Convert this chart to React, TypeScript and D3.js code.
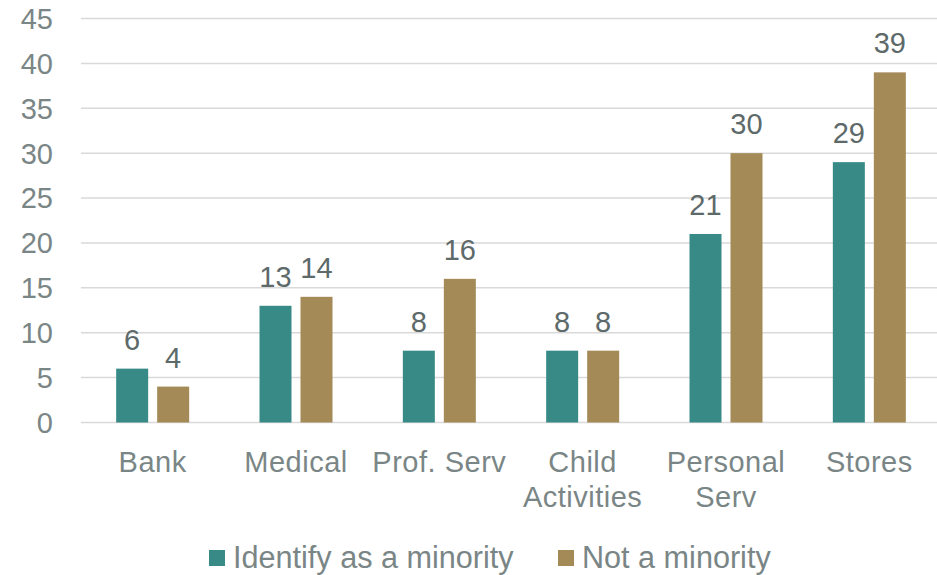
import React from "react";
import * as d3 from "d3";

const categories = ["Bank", "Medical", "Prof. Serv", "Child Activities", "Personal Serv", "Stores"];
const categoryLines = [["Bank"], ["Medical"], ["Prof. Serv"], ["Child", "Activities"], ["Personal", "Serv"], ["Stores"]];
const seriesNames = ["Identify as a minority", "Not a minority"];
const minorityValues = [6, 13, 8, 8, 21, 29];
const notMinorityValues = [4, 14, 16, 8, 30, 39];
const yTicks = [0, 5, 10, 15, 20, 25, 30, 35, 40, 45];
const colors = ["#388a87", "#a38a56"];

const W = 937;
const H = 575;
const FONT = "'Liberation Sans', Arial, sans-serif";

export default function App() {
  const x = d3.scaleBand<string>().domain(categories).range([81, 941]).paddingInner(0).paddingOuter(0);
  const y = d3.scaleLinear().domain([0, 45]).range([422.5, 18.5]);
  const series = [minorityValues, notMinorityValues];
  const barW = 32;
  const gap = 9;
  const offsets = [-(barW + gap / 2), gap / 2];

  return (
    <svg width={W} height={H} style={{ position: "absolute", left: 0, top: 0, background: "#fff" }}>
      {yTicks.map((t) => (
        <g key={t}>
          <line x1={81} x2={W} y1={y(t)} y2={y(t)} stroke="#d9d9d9" strokeWidth={1.5} />
          <text x={53} y={y(t)} dy="0.36em" textAnchor="end" fontFamily={FONT} fontSize={29} fill="#7a8686">
            {t}
          </text>
        </g>
      ))}
      {series.map((vals, si) =>
        vals.map((v, i) => {
          const cx = x(categories[i])! + x.bandwidth() / 2;
          const bx = cx + offsets[si];
          return (
            <g key={`${si}-${i}`}>
              <rect x={bx} y={y(v)} width={barW} height={y(0) - y(v)} fill={colors[si]} />
              <text x={bx + barW / 2} y={y(v) - 19} textAnchor="middle" fontFamily={FONT} fontSize={29} fill="#5e6a6a">
                {v}
              </text>
            </g>
          );
        })
      )}
      {categoryLines.map((lines, i) => {
        const cx = x(categories[i])! + x.bandwidth() / 2;
        return (
          <text key={i} textAnchor="middle" fontFamily={FONT} fontSize={29} letterSpacing={0.5} fill="#7a8686">
            {lines.map((l, j) => (
              <tspan key={j} x={cx} y={472 + j * 35}>
                {l}
              </tspan>
            ))}
          </text>
        );
      })}
      <g>
        <rect x={209} y={550} width={16} height={16} fill={colors[0]} />
        <text x={233} y={568} fontFamily={FONT} fontSize={30.6} fill="#7a8686">
          {seriesNames[0]}
        </text>
        <rect x={558} y={550} width={16} height={16} fill={colors[1]} />
        <text x={582} y={568} fontFamily={FONT} fontSize={30.6} fill="#7a8686">
          {seriesNames[1]}
        </text>
      </g>
    </svg>
  );
}
